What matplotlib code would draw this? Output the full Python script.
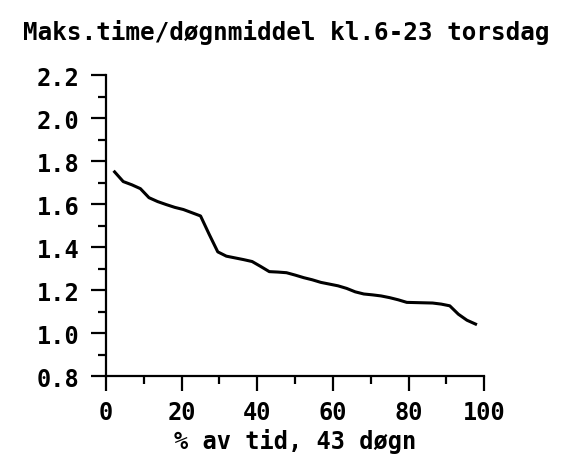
import matplotlib
matplotlib.use("Agg")
import matplotlib.pyplot as plt
import numpy as np
from matplotlib.ticker import MultipleLocator

# Maks. time / døgnmiddel, sorted, 43 days
pct_time = [2.27, 4.55, 6.82, 9.09, 11.36, 13.64, 15.91, 18.18, 20.45, 22.73,
            25.0, 27.27, 29.55, 31.82, 34.09, 36.36, 38.64, 40.91, 43.18, 45.45,
            47.73, 50.0, 52.27, 54.55, 56.82, 59.09, 61.36, 63.64, 65.91, 68.18,
            70.45, 72.73, 75.0, 77.27, 79.55, 81.82, 84.09, 86.36, 88.64, 90.91,
            93.18, 95.45, 97.73]
ratio = [1.75, 1.705, 1.69, 1.672, 1.63, 1.612, 1.598, 1.585, 1.575, 1.56,
         1.545, 1.46, 1.378, 1.358, 1.35, 1.342, 1.333, 1.31, 1.286, 1.284,
         1.281, 1.27, 1.258, 1.248, 1.236, 1.228, 1.22, 1.208, 1.192, 1.182,
         1.178, 1.173, 1.165, 1.155, 1.143, 1.142, 1.141, 1.14, 1.135, 1.127,
         1.088, 1.06, 1.042]

TITLE = "Maks.time/døgnmiddel kl.6-23 torsdag"
XLABEL = "% av tid, 43 døgn"

plt.rcParams["font.family"] = "DejaVu Sans Mono"
plt.rcParams["font.weight"] = "bold"

fig = plt.figure(figsize=(5.61, 4.56), dpi=100)
ax = fig.add_axes([0.189, 0.173, 0.674, 0.660])

ax.plot(pct_time, ratio, color="black", linewidth=2.2, solid_joinstyle="round")

ax.set_xlim(0, 100)
ax.set_ylim(0.8, 2.2)
ax.xaxis.set_major_locator(MultipleLocator(20))
ax.xaxis.set_minor_locator(MultipleLocator(10))
ax.yaxis.set_major_locator(MultipleLocator(0.2))
ax.yaxis.set_minor_locator(MultipleLocator(0.1))
ax.yaxis.set_major_formatter(matplotlib.ticker.FormatStrFormatter("%.1f"))

for s in ["top", "right"]:
    ax.spines[s].set_visible(False)
for s in ["left", "bottom"]:
    ax.spines[s].set_linewidth(1.6)

ax.tick_params(axis="both", which="major", direction="out", length=11,
               width=1.6, labelsize=17, pad=6)
ax.tick_params(axis="y", which="major", pad=8)
ax.tick_params(axis="both", which="minor", direction="out", length=6, width=1.6)

ax.set_xlabel(XLABEL, fontsize=17, fontweight="bold", labelpad=3)
fig.text(0.511, 0.928, TITLE, ha="center", va="center", fontsize=17.5,
         fontweight="bold")

fig.savefig("out.png", dpi=100)
